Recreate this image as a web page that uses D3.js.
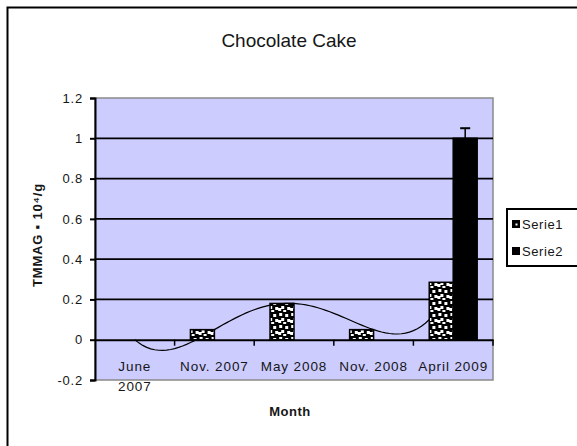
<!DOCTYPE html>
<html><head><meta charset="utf-8">
<script src="https://cdn.jsdelivr.net/npm/d3@7"></script>
<style>
html,body{margin:0;padding:0;background:#fff;}
svg{display:block;font-family:"Liberation Sans",Arial,sans-serif;}
</style></head>
<body>
<svg id="chart" width="577" height="446"></svg>
<script>
// ---- data ----
const categories = ["June 2007", "Nov. 2007", "May 2008", "Nov. 2008", "April 2009"];
const categoryLabelLines = [["June", "2007"], ["Nov. 2007"], ["May 2008"], ["Nov. 2008"], ["April 2009"]];
const seriesNames = ["Serie1", "Serie2"];
const serie1 = [0, 0.05, 0.18, 0.05, 0.285];
const serie2 = [0, 0, 0, 0, 1.0];
const serie2ErrPlus = [0, 0, 0, 0, 0.05];
const yTicks = [-0.2, 0, 0.2, 0.4, 0.6, 0.8, 1.0, 1.2];
const yTickLabels = ["-0.2", "0", "0.2", "0.4", "0.6", "0.8", "1", "1.2"];
const titleText = "Chocolate Cake";
const xTitle = "Month";
const yTitle = "TMMAG \u25AA 10\u2074/g";

const svg = d3.select("#chart");
const m = {left: 95, right: 493, top: 98, bottom: 380};
const ink = "#161616";

// pattern for Serie1 (confetti)
const defs = svg.append("defs");
const pat = defs.append("pattern").attr("id", "confetti").attr("patternUnits", "userSpaceOnUse")
  .attr("width", 12).attr("height", 12);
pat.append("rect").attr("width", 12).attr("height", 12).attr("fill", "#000");
[[1,1],[7,2],[3,6],[9,7],[5,10],[0,8]].forEach(([x,y]) =>
  pat.append("rect").attr("x", x).attr("y", y).attr("width", 3).attr("height", 3).attr("fill", "#fff"));

// outer chart border
svg.append("rect").attr("x", 7.5).attr("y", 7.5).attr("width", 620).attr("height", 480)
  .attr("fill", "#fff").attr("stroke", "#000").attr("stroke-width", 2);

// scales
const x = d3.scaleBand().domain(categories).range([m.left, m.right]).paddingInner(0).paddingOuter(0);
const xs = d3.scaleBand().domain(seriesNames).range([0, x.bandwidth()]).paddingInner(0).paddingOuter(0.66);
const y = d3.scaleLinear().domain([-0.2, 1.2]).range([m.bottom, m.top]);

// plot area
svg.append("rect").attr("x", m.left).attr("y", m.top).attr("width", m.right - m.left)
  .attr("height", m.bottom - m.top).attr("fill", "#CCCCFF").attr("stroke", "#8a8a8a").attr("stroke-width", 1.5);

// gridlines
svg.append("g").selectAll("line").data(yTicks.filter(v => v > 0 && v < 1.2)).join("line")
  .attr("x1", m.left).attr("x2", m.right).attr("y1", d => y(d)).attr("y2", d => y(d))
  .attr("stroke", "#000").attr("stroke-width", 1.8);

// y axis
const yAxis = d3.axisLeft(y).tickValues(yTicks).tickFormat((d, i) => yTickLabels[i]).tickSize(5).tickPadding(7);
const gy = svg.append("g").attr("transform", `translate(${m.left},0)`).call(yAxis);
gy.select(".domain").attr("stroke", "#000").attr("stroke-width", 2);
gy.selectAll(".tick line").attr("stroke", "#000").attr("stroke-width", 2);
gy.selectAll(".tick text").attr("font-size", 13).attr("fill", ink).attr("letter-spacing", 0.8)
  .attr("font-family", "Liberation Sans, Arial");

// trendline: polynomial (order 4) fit of Serie1
const xsIdx = serie1.map((_, i) => i + 1);
function poly(t) {
  let s = 0;
  for (let i = 0; i < xsIdx.length; i++) {
    let l = 1;
    for (let j = 0; j < xsIdx.length; j++) if (j !== i) l *= (t - xsIdx[j]) / (xsIdx[i] - xsIdx[j]);
    s += serie1[i] * l;
  }
  return s;
}
const tx = d3.scaleLinear().domain([1, categories.length])
  .range([x(categories[0]) + x.bandwidth() / 2, x(categories[categories.length - 1]) + x.bandwidth() / 2]);
const trend = d3.range(1, categories.length + 0.001, 0.05).map(t => [tx(t), y(poly(t))]);
svg.append("path").datum(trend).attr("d", d3.line()).attr("fill", "none")
  .attr("stroke", "#000").attr("stroke-width", 1.2);

// bars
const data = categories.map((c, i) => ({c, vals: [serie1[i], serie2[i]], err: serie2ErrPlus[i]}));
const groups = svg.append("g").selectAll("g").data(data).join("g")
  .attr("transform", d => `translate(${x(d.c)},0)`);
groups.selectAll("rect").data(d => d.vals.map((v, k) => ({s: seriesNames[k], v})))
  .join("rect")
  .attr("x", d => xs(d.s)).attr("width", xs.bandwidth())
  .attr("y", d => y(Math.max(0, d.v))).attr("height", d => Math.abs(y(d.v) - y(0)))
  .attr("fill", d => d.s === "Serie1" ? "url(#confetti)" : "#000")
  .attr("stroke", "#000").attr("stroke-width", d => d.v > 0 ? 1.5 : 0);

// error bars on Serie2
groups.filter(d => d.err > 0).each(function(d) {
  const g = d3.select(this);
  const cx = xs("Serie2") + xs.bandwidth() / 2;
  g.append("line").attr("x1", cx).attr("x2", cx).attr("y1", y(d.vals[1])).attr("y2", y(d.vals[1] + d.err))
    .attr("stroke", "#000").attr("stroke-width", 1.5);
  g.append("line").attr("x1", cx - 5).attr("x2", cx + 5).attr("y1", y(d.vals[1] + d.err)).attr("y2", y(d.vals[1] + d.err))
    .attr("stroke", "#000").attr("stroke-width", 2);
});

// category axis at y = 0
const xAxis = d3.axisBottom(x).tickSize(0).tickFormat("");
const gx = svg.append("g").attr("transform", `translate(0,${y(0)})`).call(xAxis);
gx.select(".domain").attr("stroke", "#000").attr("stroke-width", 2);
const bounds = categories.map(c => x(c) + x.bandwidth());
gx.selectAll(".bnd").data(bounds).join("line").attr("class", "bnd")
  .attr("x1", d => d).attr("x2", d => d).attr("y1", 0).attr("y2", 6).attr("stroke", "#000").attr("stroke-width", 1.5);

// category labels
const lab = svg.append("g").selectAll("text").data(categories).join("text")
  .attr("x", d => x(d) + x.bandwidth() / 2).attr("y", 371)
  .attr("text-anchor", "middle").attr("font-size", 13.5).attr("letter-spacing", 0.9).attr("fill", ink);
lab.selectAll("tspan").data((d, i) => categoryLabelLines[i]).join("tspan")
  .attr("x", function() { return d3.select(this.parentNode).attr("x"); })
  .attr("dy", (d, j) => j === 0 ? 0 : 20).text(d => d);

// titles
svg.append("text").attr("x", 289).attr("y", 47).attr("text-anchor", "middle")
  .attr("font-size", 19).attr("fill", ink).text(titleText);
svg.append("text").attr("x", 290).attr("y", 416).attr("text-anchor", "middle")
  .attr("font-size", 13).attr("font-weight", "bold").attr("letter-spacing", 0.5).attr("fill", ink).text(xTitle);
svg.append("text").attr("transform", "translate(42,235) rotate(-90)").attr("text-anchor", "middle")
  .attr("font-size", 13).attr("font-weight", "bold").attr("letter-spacing", 0.8).attr("fill", ink).text(yTitle);

// legend
const lg = svg.append("g");
lg.append("rect").attr("x", 507).attr("y", 209).attr("width", 100).attr("height", 57)
  .attr("fill", "#fff").attr("stroke", "#000").attr("stroke-width", 2);
const li = lg.selectAll("g").data(seriesNames).join("g")
  .attr("transform", (d, i) => `translate(512,${224 + i * 27})`);
li.append("rect").attr("x", 0).attr("y", -4).attr("width", 8).attr("height", 8)
  .attr("fill", "#000");
li.filter(d => d === "Serie1").append("rect").attr("x", 3.5).attr("y", -0.5).attr("width", 2).attr("height", 2).attr("fill", "#fff");
li.append("text").attr("x", 10).attr("y", 5).attr("font-size", 13).attr("letter-spacing", 0.6).attr("fill", ink).text(d => d);
</script>
</body></html>
